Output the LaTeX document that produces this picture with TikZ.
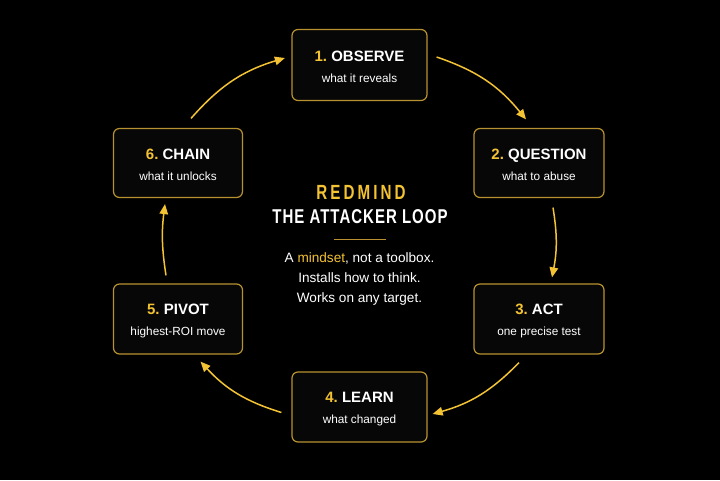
\documentclass[tikz,border=0pt]{standalone}
\usepackage{fontspec}
\setmainfont{Liberation Sans}
\newfontfamily\headfont[LetterSpace=5,FakeStretch=0.75]{Liberation Sans}
\newfontfamily\brandfont[LetterSpace=15,FakeStretch=0.74]{Liberation Sans}
\usetikzlibrary{arrows.meta, positioning, calc}
\definecolor{gold}{HTML}{F3C334}
\definecolor{boxline}{HTML}{B89230}
\definecolor{boxfill}{HTML}{070707}

\newcommand{\stagelabel}[3]{{\fontsize{15}{18}\selectfont\bfseries\rule{0pt}{15pt}\textcolor{gold}{#1}\ #2}\\{#3}}

\begin{document}
\begin{tikzpicture}[x=1pt, y=1pt,
    stage/.style={draw=boxline, line width=1.2pt, rounded corners=6pt, fill=boxfill,
      align=center, inner sep=0pt, text=white, font=\fontsize{11.8}{21}\selectfont},
    flow/.style={draw=gold, line width=1.5pt, -{Triangle[length=10pt, width=8.5pt]}},
  ]
  \fill[black] (0,0) rectangle (720,480);
  \useasboundingbox (0,0) rectangle (720,480);

  % the six stages of the loop
  \node[stage, minimum width=135, minimum height=71] (obs) at (359.5, 415) {\stagelabel{1.}{OBSERVE}{what it reveals}};
  \node[stage, minimum width=130, minimum height=69] (que) at (539, 317) {\stagelabel{2.}{QUESTION}{what to abuse}};
  \node[stage, minimum width=130, minimum height=70] (act) at (539, 161) {\stagelabel{3.}{ACT}{one precise test}};
  \node[stage, minimum width=135, minimum height=70] (lrn) at (359.5, 73) {\stagelabel{4.}{LEARN}{what changed}};
  \node[stage, minimum width=129, minimum height=70] (piv) at (178, 161) {\stagelabel{5.}{PIVOT}{highest-ROI move}};
  \node[stage, minimum width=129, minimum height=69] (chn) at (178, 317) {\stagelabel{6.}{CHAIN}{what it unlocks}};

  % centre title
  \node[text=gold, font=\brandfont\bfseries\fontsize{20.5}{22}\selectfont] (brand) at (361, 288) {REDMIND};
  \node[text=white, font=\headfont\bfseries\fontsize{20}{22}\selectfont] (loop) at (360, 263) {THE ATTACKER LOOP};
  \draw[boxline, line width=1pt] (334, 241) -- (386, 241);
  \node[text=white, align=center, font=\fontsize{13.6}{20}\selectfont] (motto) at (359.5, 201)
    {A \textcolor{gold}{mindset}, not a toolbox.\\Installs how to think.\\Works on any target.};

  % arrows round the loop
  \draw[flow] ([shift={(9,8)}]obs.east) to[bend left=16] ([shift={(-13,8.5)}]que.north);
  \draw[flow] ([shift={(14,-9.5)}]que.south) to[bend left=10] ([shift={(13,6)}]act.north);
  \draw[flow] ([shift={(-20,-8)}]act.south) to[bend left=15] ([shift={(5,-7)}]lrn.east);
  \draw[flow] ([shift={(-10,-5.5)}]lrn.west) to[bend left=15] ([shift={(22.5,-7)}]piv.south);
  \draw[flow] ([shift={(-12,8)}]piv.north) to[bend left=8] ([shift={(-13,-6)}]chn.south);
  \draw[flow] ([shift={(13,9.5)}]chn.north) to[bend left=16] ([shift={(-6.5,7)}]obs.west);
\end{tikzpicture}
\end{document}
